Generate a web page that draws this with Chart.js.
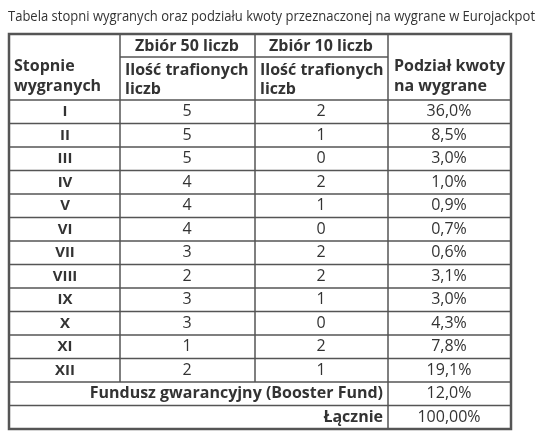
<!DOCTYPE html><html><head><meta charset="utf-8">
<script src="https://cdn.jsdelivr.net/npm/chart.js@4"></script>
<style>html,body{margin:0;background:#fff}#w{width:540px;height:442px}</style></head><body><div id="w"><canvas id="c"></canvas></div>
<script>
const title="Tabela stopni wygranych oraz podziału kwoty przeznaczonej na wygrane w Eurojackpot";
const degrees=["I","II","III","IV","V","VI","VII","VIII","IX","X","XI","XII"];
const hits50=[5,5,5,4,4,4,3,2,3,3,1,2];
const hits10=[2,1,0,2,1,0,2,2,1,0,2,1];
const shares=["36,0%","8,5%","3,0%","1,0%","0,9%","0,7%","0,6%","3,1%","3,0%","4,3%","7,8%","19,1%"];
const footLabels=["Fundusz gwarancyjny (Booster Fund)","Łącznie"];
const footValues=["12,0%","100,00%"];
const cols=[9,120,255,388,511];
const yTop=34,yMid=57,yHead=100,rowH=23.5;
const tablePlugin={id:'tbl',afterDraw(ch){
 const c=ch.ctx,X=v=>ch.scales.x.getPixelForValue(v),Y=v=>ch.scales.y.getPixelForValue(v);
 c.save();c.fillStyle='#333';c.textBaseline='middle';
 c.font='14px "Open Sans"';c.textAlign='left';
 c.save();c.translate(X(8),Y(17));c.scale(0.93,1);c.fillText(title,0,0);c.restore();
 const nRows=degrees.length+2,yBot=yHead+rowH*nRows;
 c.strokeStyle='#555';c.lineWidth=1.5;
 const L=(a,b,d,e)=>{c.beginPath();c.moveTo(X(a),Y(b));c.lineTo(X(d),Y(e));c.stroke();};
 for(let i=0;i<=nRows;i++)L(cols[0],yHead+i*rowH,cols[4],yHead+i*rowH);
 L(cols[1],yMid,cols[3],yMid);
 [1,2,3].forEach(k=>L(cols[k],yTop,cols[k],k==3?yBot:yHead+rowH*degrees.length));
 c.lineWidth=2.5;c.strokeRect(X(cols[0]),Y(yTop),X(cols[4])-X(cols[0]),Y(yBot)-Y(yTop));
 c.font='bold 16px "Open Sans"';
 const T=(s,x,y,al)=>{c.textAlign=al||'center';c.fillText(s,X(x),Y(y));};
 T("Stopnie",14,66,'left');T("wygranych",14,86,'left');
 T("Zbiór 50 liczb",187,46);T("Zbiór 10 liczb",321,46);
 T("Ilość trafionych",125,70,'left');T("liczb",125,89,'left');
 T("Ilość trafionych",260,70,'left');T("liczb",260,89,'left');
 T("Podział kwoty",394,66,'left');T("na wygrane",394,86,'left');
 degrees.forEach((d,i)=>{const y=yHead+rowH*(i+0.5);
  c.font='bold 15px "Open Sans"';T(d,65,y);
  c.font='16px "Open Sans"';T(String(hits50[i]),187,y);T(String(hits10[i]),321,y);T(shares[i],449,y);});
 footLabels.forEach((f,i)=>{const y=yHead+rowH*(degrees.length+i+0.5);
  c.font='bold 16px "Open Sans"';T(f,383,y,'right');c.font='16px "Open Sans"';T(footValues[i],449,y);});
 c.restore();}};
new Chart(document.getElementById('c'),{type:'scatter',data:{datasets:[{data:[]}]},
 options:{responsive:true,maintainAspectRatio:false,animation:false,layout:{padding:0},
 plugins:{legend:{display:false},tooltip:{enabled:false}},
 scales:{x:{type:'linear',min:0,max:540,display:false},y:{type:'linear',min:0,max:442,reverse:true,display:false}}},
 plugins:[tablePlugin]});
</script></body></html>
